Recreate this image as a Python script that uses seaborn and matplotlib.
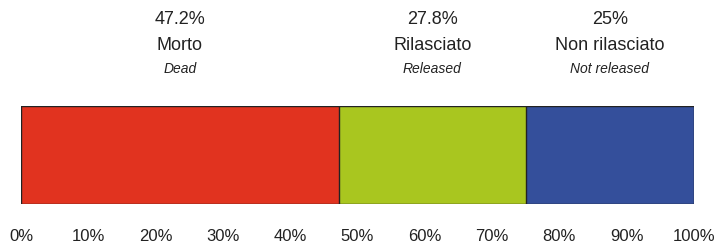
import matplotlib
matplotlib.use("Agg")
import matplotlib.pyplot as plt
import numpy as np
import pandas as pd
import seaborn as sns

shares = [47.2, 27.8, 25.0]
pct_labels = ["47.2%", "27.8%", "25%"]
names_it = ["Morto", "Rilasciato", "Non rilasciato"]
names_en = ["Dead", "Released", "Not released"]
colors = ["#E1331F", "#A9C61F", "#344F9B"]
tick_values = [0, 10, 20, 30, 40, 50, 60, 70, 80, 90, 100]

sns.set_theme(style="white")
plt.rcParams["font.family"] = ["Liberation Sans Narrow", "Liberation Sans", "DejaVu Sans"]

fig = plt.figure(figsize=(7.27, 2.51), dpi=100)
ax = fig.add_axes([21 / 727, 46 / 251, 673 / 727, 98 / 251])

cum = np.cumsum(shares)
starts = cum - np.array(shares)
# draw cumulative totals from the largest down so each segment shows
for i in reversed(range(len(shares))):
    df = pd.DataFrame({"value": [cum[i]], "group": ["all"]})
    sns.barplot(data=df, x="value", y="group", color=colors[i], width=1.0,
                edgecolor="#222222", linewidth=1.0, saturation=1, ax=ax)

ax.set_xlim(0, 100)
ax.set_ylim(0.5, -0.5)
ax.set_yticks([])
ax.set_xlabel("")
ax.set_ylabel("")
for s in ax.spines.values():
    s.set_visible(False)

ax.set_xticks(tick_values)
ax.set_xticklabels([f"{v}%" for v in tick_values], fontsize=12, color="#222222")
ax.tick_params(axis="x", length=0, pad=17)

for i in range(len(shares)):
    xc = starts[i] + shares[i] / 2
    ax.text(xc, 1.89, pct_labels[i], transform=ax.get_xaxis_transform(),
            ha="center", va="center", fontsize=13, color="#222222")
    ax.text(xc, 1.63, names_it[i], transform=ax.get_xaxis_transform(),
            ha="center", va="center", fontsize=13, color="#222222")
    ax.text(xc, 1.39, names_en[i], transform=ax.get_xaxis_transform(),
            ha="center", va="center", fontsize=10, style="italic", color="#222222")

fig.savefig("out.png", dpi=100)
